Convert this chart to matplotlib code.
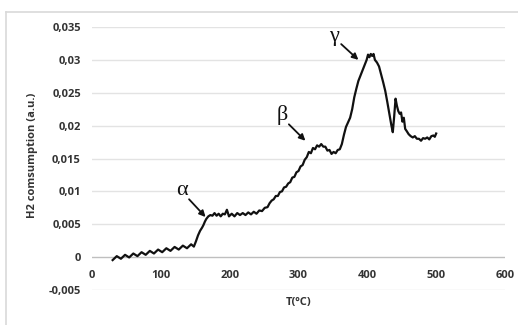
import matplotlib
matplotlib.use("Agg")
import matplotlib.pyplot as plt
from matplotlib.lines import Line2D

# ---- data ----
temp = [30, 36, 42, 48, 54, 60, 66, 72, 78, 84, 90, 96, 102, 108, 114, 120, 126, 132, 138, 144, 148,
        151, 154, 157, 160, 162, 164, 166, 169, 172, 175, 178, 181, 184, 187, 190, 193, 196, 199,
        203, 207, 211, 215, 219, 223, 227, 231, 235, 239, 243, 247, 251, 255, 258, 261, 264, 267,
        270, 273, 276, 279, 282, 285, 288, 291, 294, 297, 300, 303, 306, 309, 312, 315, 318, 321,
        324, 327, 330, 333, 336, 339, 342, 345, 348, 351, 354, 357, 360, 363, 366, 369, 372, 375,
        378, 381, 384, 387, 390, 393, 396, 399, 401, 403, 405, 407, 409, 411, 414, 417, 420, 423,
        426, 429, 432, 435, 437, 439, 441, 443, 445, 447, 449, 451, 453, 455, 457, 460, 463, 466,
        469, 472, 475, 478, 481, 484, 487, 490, 493, 496, 498, 500]
h2 = [-0.00045, 0.00015, -0.00025, 0.00035, -0.00005, 0.00055, 0.00015, 0.00075, 0.00035, 0.00095,
      0.00055, 0.00115, 0.00075, 0.00135, 0.00095, 0.00155, 0.00115, 0.00175, 0.00135, 0.00195, 0.0016,
      0.0024, 0.0033, 0.0040, 0.0045, 0.0049, 0.0054, 0.0058, 0.0062, 0.0064, 0.0063, 0.0067, 0.0063,
      0.0066, 0.0062, 0.0066, 0.0065, 0.0072, 0.0062, 0.0066, 0.0062, 0.0067, 0.0064, 0.0067, 0.0064,
      0.0068, 0.0065, 0.0069, 0.0066, 0.0071, 0.0070, 0.0075, 0.0076, 0.0082, 0.0086, 0.0088, 0.0093,
      0.0093, 0.0099, 0.0100, 0.0106, 0.0107, 0.0112, 0.0114, 0.0121, 0.0122, 0.0129, 0.0131, 0.0138,
      0.0140, 0.0148, 0.0152, 0.0160, 0.0158, 0.0166, 0.0164, 0.0170, 0.0168, 0.0172, 0.0168, 0.0168,
      0.0162, 0.0163, 0.0157, 0.0160, 0.0158, 0.0163, 0.0164, 0.0172, 0.0186, 0.0198, 0.0205, 0.0212,
      0.0225, 0.0243, 0.0256, 0.0268, 0.0276, 0.0284, 0.0292, 0.0300, 0.0308, 0.0304, 0.0309, 0.0306,
      0.0309, 0.0300, 0.0296, 0.0290, 0.0278, 0.0266, 0.0253, 0.0236, 0.0218, 0.0200, 0.0190, 0.0214,
      0.0241, 0.0230, 0.0222, 0.0218, 0.0220, 0.0206, 0.0212, 0.0195, 0.0192, 0.0187, 0.0184, 0.0182,
      0.0184, 0.0180, 0.0180, 0.0177, 0.0181, 0.0180, 0.0182, 0.0179, 0.0184, 0.0185, 0.0183, 0.0188]

x_ticks = [0, 100, 200, 300, 400, 500, 600]
y_ticks = [-0.005, 0, 0.005, 0.01, 0.015, 0.02, 0.025, 0.03, 0.035]
y_tick_labels = ["-0,005", "0", "0,005", "0,01", "0,015", "0,02", "0,025", "0,03", "0,035"]

peak_labels = ["α", "β", "γ"]
peak_text_pos = [(130, 0.0101), (277, 0.0216), (352, 0.0335)]
peak_arrow_start = [(141, 0.0088), (286, 0.0202), (362, 0.0324)]
peak_arrow_tip = [(165, 0.0061), (310, 0.0177), (387, 0.0300)]

W, H = 518, 325
fig = plt.figure(figsize=(W / 100, H / 100), dpi=100)
fig.patch.set_facecolor("white")

# outer chart frame (Excel chart area)
fig.add_artist(Line2D([6 / W, 1], [1 - 12 / H, 1 - 12 / H], color="#d9d9d9", lw=1.2,
                      transform=fig.transFigure))
fig.add_artist(Line2D([6 / W, 6 / W], [1 - 12 / H, 0], color="#d9d9d9", lw=1.2,
                      transform=fig.transFigure))

ax = fig.add_axes([92 / W, 1 - 290 / H, (505 - 92) / W, (290 - 27) / H])
ax.set_xlim(0, 600)
ax.set_ylim(-0.005, 0.035)

for s in ax.spines.values():
    s.set_visible(False)
ax.spines["bottom"].set_position(("data", 0))

for yv in y_ticks:
    ax.axhline(yv, color="#bfbfbf" if yv == 0 else "#e3e3e3", lw=1.0, zorder=0)

ax.plot(temp, h2, color="#111111", lw=1.6, zorder=3)

tick_font = dict(family="Open Sans", weight="bold", size=8)
ax.set_yticks(y_ticks)
ax.set_yticklabels(y_tick_labels, **tick_font, color="#333333")
ax.set_xticks(x_ticks)
ax.set_xticklabels([str(v) for v in x_ticks], **tick_font, color="#333333")
ax.tick_params(axis="both", length=0)
ax.tick_params(axis="y", pad=8)
ax.tick_params(axis="x", pad=9)

for lab, tp, sp, ap in zip(peak_labels, peak_text_pos, peak_arrow_start, peak_arrow_tip):
    ax.text(tp[0], tp[1], lab, ha="center", va="center", fontsize=16,
            family="Liberation Serif", color="#111111")
    ax.annotate("", xy=ap, xytext=sp,
                arrowprops=dict(arrowstyle="-|>", color="#111111", lw=1.3,
                                mutation_scale=9, shrinkA=0, shrinkB=0))

fig.text(298.5 / W, 1 - 302 / H, "T(ºC)", ha="center", va="center",
         family="Open Sans", weight="bold", size=8, color="#333333")
fig.text(33 / W, 1 - 155 / H, "H2 comsumption (a.u.)", ha="center", va="center",
         rotation=90, family="Open Sans", weight="bold", size=8, color="#333333")

fig.savefig("out.png", dpi=100, facecolor="white")
